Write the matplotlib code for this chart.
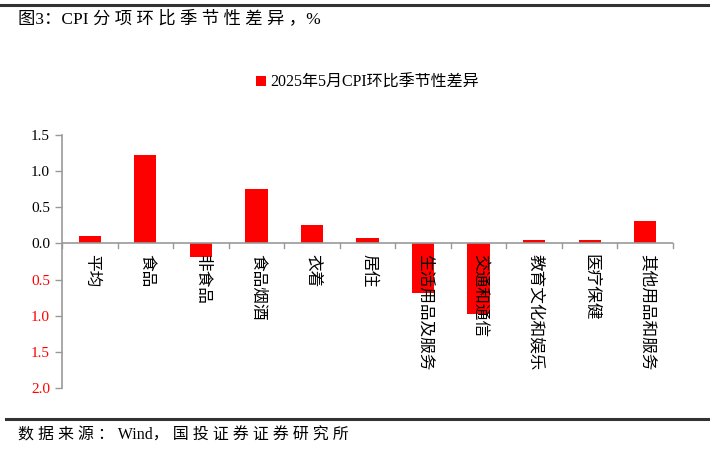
import matplotlib.pyplot as plt
from matplotlib.lines import Line2D
import numpy as np

categories = ['平均', '食品', '非食品', '食品烟酒', '衣着', '居住', '生活用品及服务',
              '交通和通信', '教育文化和娱乐', '医疗保健', '其他用品和服务']
values = [0.10, 1.23, -0.19, 0.75, 0.26, 0.08, -0.68, -0.97, 0.05, 0.05, 0.31]
series_name = '2025年5月CPI环比季节性差异'
yticks = [1.5, 1.0, 0.5, 0.0, -0.5, -1.0, -1.5, -2.0]

serif = ['Liberation Serif', 'Noto Sans CJK SC']
cjk = ['Noto Sans CJK SC', 'DejaVu Sans']

fig = plt.figure(figsize=(7.14, 4.49), dpi=100)
ax = fig.add_axes([0.0868, 0.1359, 0.8558, 0.5634])

x = np.arange(len(categories))
ax.bar(x, values, width=0.4, color='#ff0000', label=series_name, zorder=3)

ax.set_xlim(-0.5, len(categories) - 0.5)
ax.set_ylim(-2.0, 1.5)
ax.set_yticks(yticks)
ylabels = ax.set_yticklabels([f'{abs(v):.1f}' for v in yticks], family=serif, fontsize=11)

# x axis at zero with ticks at category boundaries
for s in ['top', 'right', 'bottom']:
    ax.spines[s].set_visible(False)
ax.spines['left'].set_color('#999999')
ax.spines['left'].set_linewidth(1.2)
ax.axhline(0, color='#999999', lw=1.2, zorder=4)
ax.tick_params(axis='y', colors='#999999', length=5, width=1, labelcolor='black')
for lab, v in zip(ylabels, yticks):
    if v < 0:
        lab.set_color('#ff0000')
ax.set_xticks([])
for b in np.arange(len(categories) + 1) - 0.5:
    ax.plot([b, b], [0, -0.07], color='#999999', lw=1, zorder=4, clip_on=False)

for xi, name in zip(x, categories):
    ax.text(xi + 0.03, -0.14, name, rotation=-90, ha='center', va='top',
            family=cjk, fontsize=12, zorder=5)

leg = ax.legend(loc='lower center', bbox_to_anchor=(0.5, 1.12), frameon=False,
                handlelength=0.6, handleheight=0.6, handletextpad=0.3,
                prop={'family': serif, 'size': 11.5})

title = '图3：CPI ' + ' '.join('分项环比季节性差异，') + '%'
source = ' '.join('数据来源：') + ' Wind， ' + ' '.join('国投证券证券研究所')
fig.text(0.025, 0.958, title, family=serif, fontsize=12.5, va='center', ha='left')
fig.text(0.025, 0.03, source, family=serif, fontsize=11.5, va='center', ha='left')

fig.add_artist(Line2D([0.0, 0.992], [0.988, 0.988], color='#333333', lw=2.2,
                      transform=fig.transFigure))
fig.add_artist(Line2D([0.008, 0.992], [0.067, 0.067], color='#333333', lw=2.2,
                      transform=fig.transFigure))

fig.savefig('out.png', dpi=100)
